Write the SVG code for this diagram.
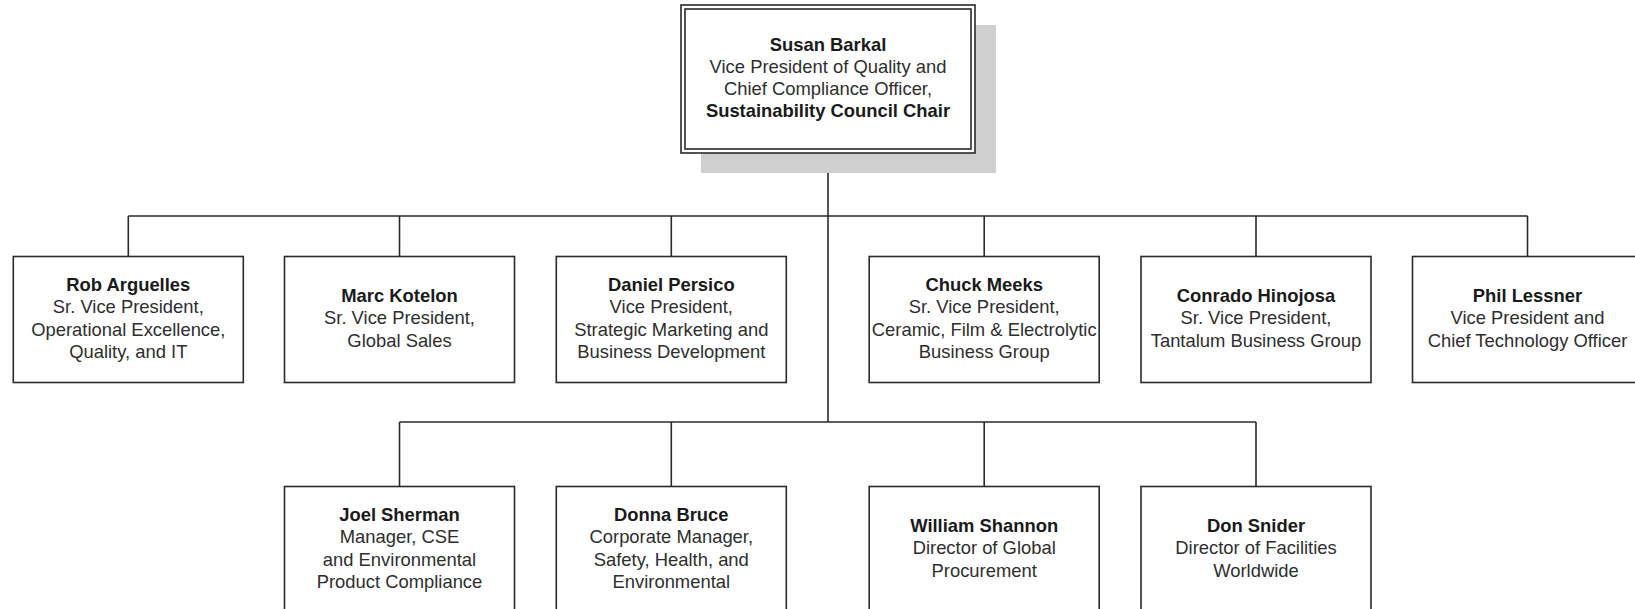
<svg xmlns="http://www.w3.org/2000/svg" width="1635" height="609" viewBox="0 0 1635 609">
<style>
  .box { fill: #ffffff; stroke: #2a2a2a; stroke-width: 1.6; }
  .shadow { fill: #cfcfcf; stroke: none; }
  .conn { fill: none; stroke: #2a2a2a; stroke-width: 1.6; }
  text { font-family: "Liberation Sans", Arial, sans-serif; font-size: 18.4px; fill: #2e2e2e; text-anchor: middle; }
  .b { font-weight: bold; fill: #1a1a1a; }
</style>
<rect width="1635" height="609" fill="#ffffff"/>
<g id="connectors">
  <line class="conn" x1="828" y1="153" x2="828" y2="422"/>
  <line class="conn" x1="128.3" y1="216" x2="1527.5" y2="216"/>
  <line class="conn" x1="128.3" y1="216" x2="128.3" y2="256.5"/>
  <line class="conn" x1="399.5" y1="216" x2="399.5" y2="256.5"/>
  <line class="conn" x1="671.3" y1="216" x2="671.3" y2="256.5"/>
  <line class="conn" x1="984.2" y1="216" x2="984.2" y2="256.5"/>
  <line class="conn" x1="1256" y1="216" x2="1256" y2="256.5"/>
  <line class="conn" x1="1527.5" y1="216" x2="1527.5" y2="256.5"/>
  <line class="conn" x1="399.5" y1="422" x2="1256" y2="422"/>
  <line class="conn" x1="399.5" y1="422" x2="399.5" y2="486.5"/>
  <line class="conn" x1="671.3" y1="422" x2="671.3" y2="486.5"/>
  <line class="conn" x1="984.2" y1="422" x2="984.2" y2="486.5"/>
  <line class="conn" x1="1256" y1="422" x2="1256" y2="486.5"/>
</g>
<g id="susan-barkal">
  <rect class="shadow" x="701" y="25" width="295" height="148"/>
  <rect class="box" x="681" y="5" width="294" height="148"/>
  <rect class="box" x="685" y="9" width="286" height="140"/>
  <text x="828" y="50.5" class="b">Susan Barkal</text>
  <text x="828" y="72.8">Vice President of Quality and</text>
  <text x="828" y="95.1">Chief Compliance Officer,</text>
  <text x="828" y="117.4" class="b">Sustainability Council Chair</text>
</g>
<g id="rob-arguelles">
  <rect class="box" x="13.3" y="256.5" width="230" height="126"/>
  <text x="128.3" y="291" class="b">Rob Arguelles</text>
  <text x="128.3" y="313.3">Sr. Vice President,</text>
  <text x="128.3" y="335.6">Operational Excellence,</text>
  <text x="128.3" y="357.9">Quality, and IT</text>
</g>
<g id="marc-kotelon">
  <rect class="box" x="284.5" y="256.5" width="230" height="126"/>
  <text x="399.5" y="302" class="b">Marc Kotelon</text>
  <text x="399.5" y="324.3">Sr. Vice President,</text>
  <text x="399.5" y="346.6">Global Sales</text>
</g>
<g id="daniel-persico">
  <rect class="box" x="556.3" y="256.5" width="230" height="126"/>
  <text x="671.3" y="291" class="b">Daniel Persico</text>
  <text x="671.3" y="313.3">Vice President,</text>
  <text x="671.3" y="335.6">Strategic Marketing and</text>
  <text x="671.3" y="357.9">Business Development</text>
</g>
<g id="chuck-meeks">
  <rect class="box" x="869.2" y="256.5" width="230" height="126"/>
  <text x="984.2" y="291" class="b">Chuck Meeks</text>
  <text x="984.2" y="313.3">Sr. Vice President,</text>
  <text x="984.2" y="335.6">Ceramic, Film &amp; Electrolytic</text>
  <text x="984.2" y="357.9">Business Group</text>
</g>
<g id="conrado-hinojosa">
  <rect class="box" x="1141" y="256.5" width="230" height="126"/>
  <text x="1256" y="302" class="b">Conrado Hinojosa</text>
  <text x="1256" y="324.3">Sr. Vice President,</text>
  <text x="1256" y="346.6">Tantalum Business Group</text>
</g>
<g id="phil-lessner">
  <rect class="box" x="1412.5" y="256.5" width="230" height="126"/>
  <text x="1527.5" y="302" class="b">Phil Lessner</text>
  <text x="1527.5" y="324.3">Vice President and</text>
  <text x="1527.5" y="346.6">Chief Technology Officer</text>
</g>
<g id="joel-sherman">
  <rect class="box" x="284.5" y="486.5" width="230" height="126"/>
  <text x="399.5" y="521" class="b">Joel Sherman</text>
  <text x="399.5" y="543.3">Manager, CSE</text>
  <text x="399.5" y="565.6">and Environmental</text>
  <text x="399.5" y="587.9">Product Compliance</text>
</g>
<g id="donna-bruce">
  <rect class="box" x="556.3" y="486.5" width="230" height="126"/>
  <text x="671.3" y="521" class="b">Donna Bruce</text>
  <text x="671.3" y="543.3">Corporate Manager,</text>
  <text x="671.3" y="565.6">Safety, Health, and</text>
  <text x="671.3" y="587.9">Environmental</text>
</g>
<g id="william-shannon">
  <rect class="box" x="869.2" y="486.5" width="230" height="126"/>
  <text x="984.2" y="532" class="b">William Shannon</text>
  <text x="984.2" y="554.3">Director of Global</text>
  <text x="984.2" y="576.6">Procurement</text>
</g>
<g id="don-snider">
  <rect class="box" x="1141" y="486.5" width="230" height="126"/>
  <text x="1256" y="532" class="b">Don Snider</text>
  <text x="1256" y="554.3">Director of Facilities</text>
  <text x="1256" y="576.6">Worldwide</text>
</g>
</svg>
